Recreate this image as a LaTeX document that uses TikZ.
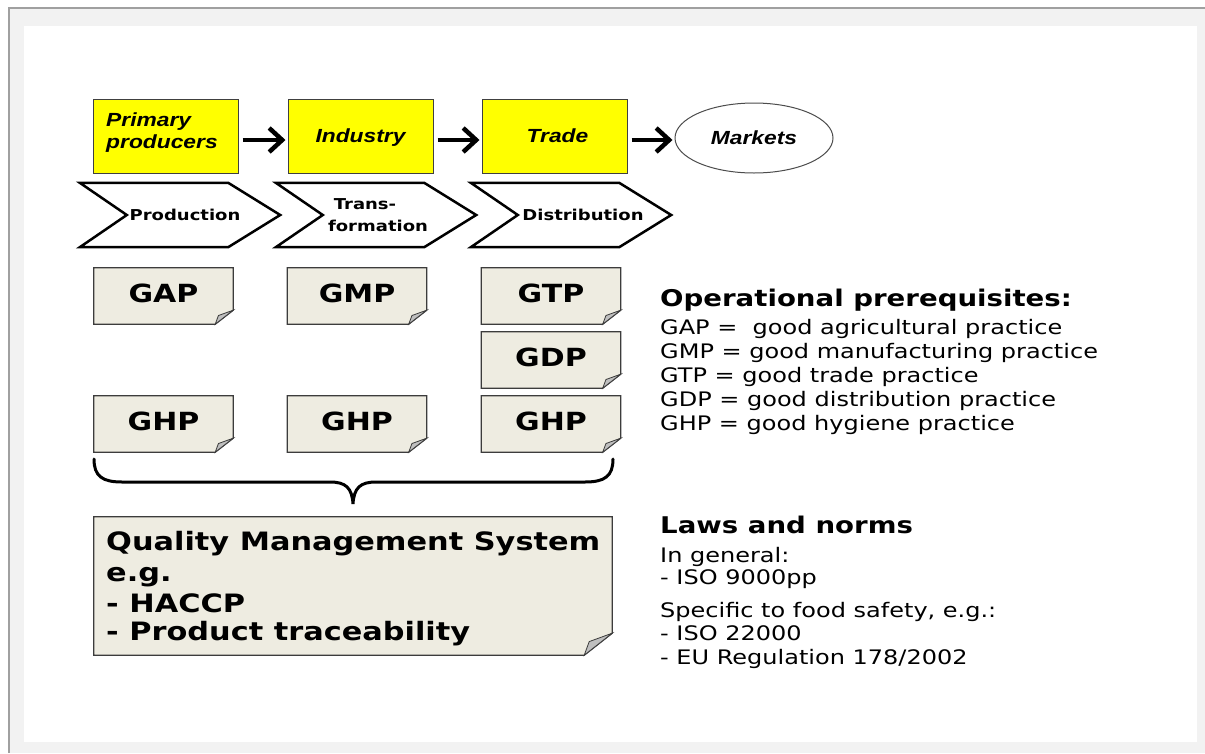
\documentclass[tikz,border=0pt]{standalone}
\usepackage{fontspec}
\usetikzlibrary{arrows.meta,shapes.geometric,backgrounds}
\newfontfamily\vf{DejaVu Sans}[FakeStretch=1.2]
\newfontfamily\af{Liberation Sans}[FakeStretch=1.2]
\definecolor{framegray}{HTML}{F2F2F2}
\definecolor{frameline}{HTML}{A0A0A0}
\definecolor{notefill}{HTML}{EEECE1}
\definecolor{noteline}{HTML}{3C3C3C}
\definecolor{flapfill}{HTML}{BFBFBF}
\definecolor{yel}{HTML}{FFFF00}
\newcommand\foldedbox[3]{%
  \filldraw[fill=notefill, draw=noteline, line width=1.3]
    (#1.north west) -- (#1.north east) -- ([yshift=#3]#1.south east)
    -- ([xshift=-#2]#1.south east) -- (#1.south west) -- cycle;
  \filldraw[fill=flapfill, draw=noteline, line width=0.8]
    ([xshift=-#2]#1.south east)
    .. controls ([xshift=-0.9*#2, yshift=0.35*#3]#1.south east) .. ([xshift=-0.82*#2, yshift=0.62*#3]#1.south east)
    -- ([yshift=#3]#1.south east) -- cycle;
}
\newcommand\chevshape[1]{%
  \filldraw[fill=white, draw=black, line width=2.5, line join=miter]
    (#1.north west) -- ([xshift=-52]#1.north east) -- (#1.east)
    -- ([xshift=-52]#1.south east) -- (#1.south west) -- ([xshift=47]#1.west) -- cycle;
}
\tikzset{
  ybox/.style={draw=black!75, line width=1, fill=yel, minimum width=145, minimum height=74, inner sep=0,
    font=\af\bfseries\itshape\fontsize{19}{22}\selectfont, text height=13.6, text depth=0},
  ytxt/.style={inner sep=0, font=\af\bfseries\itshape\fontsize{19}{22}\selectfont},
  flowarrow/.style={line width=4.5, -{Straight Barb[length=13,width=24]}, shorten <=4, shorten >=2},
  chev/.style={minimum width=200, minimum height=64, inner sep=0, align=center,
    font=\vf\bfseries\fontsize{15}{22}\selectfont},
  notebox/.style={minimum width=139, minimum height=56, inner sep=0,
    font=\vf\bfseries\fontsize{25}{30}\selectfont, text height=18.2, text depth=5},
  qmsbox/.style={minimum width=518, minimum height=138, inner sep=0},
  qtxt/.style={inner sep=0, anchor=base west, font=\vf\bfseries\fontsize{25.3}{30}\selectfont},
  ophead/.style={inner sep=0, anchor=base west, font=\vf\bfseries\fontsize{23}{28}\selectfont},
  optxt/.style={inner sep=0, anchor=base west, font=\vf\fontsize{20}{24}\selectfont},
  bracestyle/.style={line width=3, line cap=round},
}
\begin{document}
\begin{tikzpicture}[x=1pt, y=-1pt]
\useasboundingbox (0,0) rectangle (1205,753);

% top chain
\node[ybox] (pp) at (165.5,136) {};
\node[ytxt, anchor=base west] (ppt1) at (106,126) {Primary};
\node[ytxt, anchor=base west] (ppt2) at (106,148) {producers};
\node[ybox] (ind) at (360.5,136) {Industry};
\node[ybox] (trd) at (554.5,136) {\hspace*{6pt}Trade};
\node[ellipse, draw=black!70, line width=1, fill=white, minimum width=158, minimum height=70, inner sep=0,
  font=\af\bfseries\itshape\fontsize{19}{22}\selectfont] (mkt) at (754,138) {Markets};

\draw[flowarrow] ([yshift=-4]pp.east) -- ([yshift=-4]ind.west);
\draw[flowarrow] ([yshift=-4]ind.east) -- ([yshift=-4]trd.west);
\draw[flowarrow] ([yshift=-4]trd.east) -- ([yshift=-2]mkt.west);

% chevrons
\node[chev] (prod) at (180,215) {\hspace*{10pt}Production};
\node[chev] (trans) at (376,215) {Trans-\hspace*{22pt}\\\hspace*{4pt}formation};
\node[chev] (dist) at (571,215) {\hspace*{24pt}Distribution};

% notes
\node[notebox] (gap) at (163.5,296) {GAP};
\node[notebox] (gmp) at (357,296) {GMP};
\node[notebox] (gtp) at (551,296) {GTP};
\node[notebox] (gdp) at (551,360) {GDP};
\node[notebox] (ghpa) at (163.5,424) {GHP};
\node[notebox] (ghpb) at (357,424) {GHP};
\node[notebox] (ghpc) at (551,424) {GHP};

% brace
\draw[bracestyle] (94,459) .. controls (94,476) and (102,482) .. (122,482) -- (330,482)
  .. controls (346,482) and (352,488) .. (353,504)
  .. controls (354,488) and (360,482) .. (376,482) -- (585,482)
  .. controls (605,482) and (613,476) .. (613,459);

% QMS
\node[qmsbox] (qms) at (353,586) {};
\node[qtxt] (q1) at (106,550) {Quality Management System};
\node[qtxt] (q2) at (106,581) {e.g.};
\node[qtxt] (q3) at (106,612) {- HACCP};
\node[qtxt] (q4) at (106,640) {- Product traceability};

% operational prerequisites
\node[ophead] (op0) at (660,306) {Operational prerequisites:};
\node[optxt] (op1) at (660,334) {GAP =\ \ good agricultural practice};
\node[optxt] (op2) at (660,358) {GMP = good manufacturing practice};
\node[optxt] (op3) at (660,382) {GTP = good trade practice};
\node[optxt] (op4) at (660,406) {GDP = good distribution practice};
\node[optxt] (op5) at (660,430) {GHP = good hygiene practice};

% laws
\node[ophead] (lw0) at (660,533) {Laws and norms};
\node[optxt] (lw1) at (660,562) {In general:};
\node[optxt] (lw2) at (660,584) {- ISO 9000pp};
\node[optxt] (lw3) at (660,617) {Specific to food safety, e.g.:};
\node[optxt] (lw4) at (660,640) {- ISO 22000};
\node[optxt] (lw5) at (660,664) {- EU Regulation 178/2002};

\begin{scope}[on background layer]
\fill[framegray] (9,8) rectangle (1205,753);
\fill[white] (24,26) rectangle (1197,742);
\draw[frameline, line width=1.2] (9,753) -- (9,8) -- (1205,8);
\chevshape{prod}
\chevshape{trans}
\chevshape{dist}
\foldedbox{gap}{18}{14}
\foldedbox{gmp}{18}{14}
\foldedbox{gtp}{18}{14}
\foldedbox{gdp}{18}{14}
\foldedbox{ghpa}{18}{14}
\foldedbox{ghpb}{18}{14}
\foldedbox{ghpc}{18}{14}
\foldedbox{qms}{28}{22}
\end{scope}
\end{tikzpicture}
\end{document}
